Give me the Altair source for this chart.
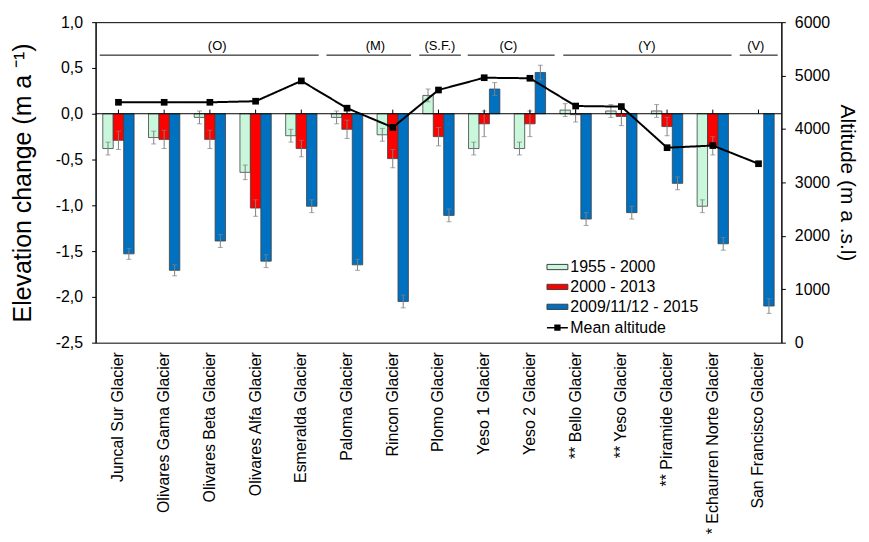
import altair as alt
import pandas as pd

# ---------------- data ----------------
glaciers = ["Juncal Sur Glacier", "Olivares Gama Glacier", "Olivares Beta Glacier",
            "Olivares Alfa Glacier", "Esmeralda Glacier", "Paloma Glacier", "Rincon Glacier",
            "Plomo Glacier", "Yeso 1  Glacier", "Yeso 2 Glacier", "** Bello Glacier",
            "** Yeso Glacier", "** Piramide Glacier", "* Echaurren Norte Glacier",
            "San Francisco Glacier"]
periods = ["1955 - 2000", "2000 - 2013", "2009/11/12 - 2015"]

change_1955_2000 = [-0.38, -0.26, -0.04, -0.64, -0.24, -0.04, -0.23, 0.20, -0.38, -0.38,
                    0.04, 0.03, 0.03, -1.01, None]
err_1955_2000 = [0.07, 0.07, 0.07, 0.08, 0.07, 0.07, 0.07, 0.07, 0.07, 0.07,
                 0.07, 0.07, 0.07, 0.07, None]
change_2000_2013 = [-0.29, -0.28, -0.28, -1.03, -0.38, -0.17, -0.49, -0.25, -0.11, -0.11,
                    -0.01, -0.03, -0.14, -0.35, None]
err_2000_2013 = [0.10, 0.10, 0.10, 0.09, 0.09, 0.10, 0.10, 0.10, 0.14, 0.14,
                 0.08, 0.10, 0.10, 0.10, None]
change_2009_2015 = [-1.53, -1.71, -1.39, -1.61, -1.01, -1.65, -2.05, -1.11, 0.27, 0.45,
                    -1.15, -1.08, -0.76, -1.42, -2.10]
err_2009_2015 = [0.06, 0.06, 0.07, 0.07, 0.07, 0.06, 0.07, 0.07, 0.07, 0.08,
                 0.07, 0.07, 0.07, 0.07, 0.08]
mean_altitude = [4500, 4500, 4500, 4520, 4900, 4390, 4030, 4730, 4960, 4950,
                 4430, 4420, 3650, 3690, 3350]

group_names = ["(O)", "(M)", "(S.F.)", "(C)", "(Y)", "(V)"]
group_start = [-0.41, 4.55, 6.58, 7.64, 9.73, 13.59]
group_end = [4.38, 6.40, 7.49, 9.54, 13.41, 14.42]
group_label_pos = [2.16, 5.62, 7.03, 8.53, 11.56, 13.94]

# ---------------- tables ----------------
rows = []
for vals, errs, p in [(change_1955_2000, err_1955_2000, periods[0]),
                      (change_2000_2013, err_2000_2013, periods[1]),
                      (change_2009_2015, err_2009_2015, periods[2])]:
    for g, v, e in zip(glaciers, vals, errs):
        if v is not None:
            rows.append({"glacier": g, "period": p, "value": v, "err": e})
bars_df = pd.DataFrame(rows)
alt_df = pd.DataFrame({"glacier": glaciers, "altitude": mean_altitude})
names_df = pd.DataFrame({"glacier": glaciers})
zero_df = pd.DataFrame({"z": [0]})
groups_df = pd.DataFrame({"name": group_names, "start": group_start,
                          "end": group_end, "mid": group_label_pos})

FONT = "Liberation Sans"
colors = ["#C8F7DC", "#FF0000", "#0070C0"]

xband = alt.Scale(domain=glaciers, paddingInner=0, paddingOuter=0)
yelev = alt.Scale(domain=[-2.5, 1.0], nice=False, zero=False)

bar_legend = alt.Legend(
    title=None, orient="none", legendX=453, legendY=235,
    labelFontSize=16, labelFont=FONT, labelColor="black", labelOffset=2,
    symbolSize=441, symbolStrokeWidth=1, symbolStrokeColor="#404040", rowPadding=1,
    symbolType="M-1,-0.25H1V0.25H-1Z",
)
line_legend = alt.Legend(
    title=None, orient="none", legendX=453, legendY=296,
    labelFontSize=16, labelFont=FONT, labelColor="black", labelOffset=2,
    symbolSize=441, symbolStrokeWidth=1, symbolStrokeColor="#000000",
    symbolFillColor="#000000",
    symbolType="M-1,-0.08H1V0.08H-1Z M-0.3,-0.3H0.3V0.3H-0.3Z",
)

x_enc = alt.X("glacier:N", sort=glaciers, scale=xband,
              axis=alt.Axis(title=None, labelAngle=270, labelFontSize=16, labelPadding=9,
                            domain=False, ticks=False, labelLimit=300))
xoff = alt.XOffset("period:N", sort=periods,
                   scale=alt.Scale(domain=periods, paddingInner=0, paddingOuter=0.69))

bars = alt.Chart(bars_df).mark_bar(stroke="#404040", strokeWidth=0.8).encode(
    x=x_enc,
    xOffset=xoff,
    y=alt.Y("value:Q", scale=yelev,
            axis=alt.Axis(title="Elevation change (m a ⁻¹)", titleFontSize=25,
                          values=[-2.5, -2.0, -1.5, -1.0, -0.5, 0.0, 0.5, 1.0],
                          labelExpr="(datum.value < 0 ? '-' : '') + replace(format(abs(datum.value), '.1f'), '.', ',')",
                          labelFontSize=16, tickSize=4, labelPadding=9, titlePadding=20)),
    color=alt.Color("period:N", scale=alt.Scale(domain=periods, range=colors),
                    legend=bar_legend),
)

err_rules = alt.Chart(bars_df).transform_calculate(
    lo="datum.value - datum.err", hi="datum.value + datum.err"
).mark_rule(color="#808080", strokeWidth=1).encode(
    x=alt.X("glacier:N", sort=glaciers, scale=xband),
    xOffset=xoff,
    y=alt.Y("lo:Q", scale=yelev),
    y2="hi:Q",
)

err_caps = alt.Chart(bars_df).transform_calculate(
    lo="datum.value - datum.err", hi="datum.value + datum.err"
).transform_fold(["lo", "hi"], as_=["cap", "capv"]).mark_tick(
    color="#808080", size=5, thickness=1
).encode(
    x=alt.X("glacier:N", sort=glaciers, scale=xband),
    xOffset=xoff,
    y=alt.Y("capv:Q", scale=yelev),
)

zero_line = alt.Chart(zero_df).mark_rule(color="black", strokeWidth=1).encode(
    y=alt.Y("z:Q", scale=yelev)
)

cat_ticks = alt.Chart(names_df).mark_rule(color="black", strokeWidth=1).encode(
    x=alt.X("glacier:N", sort=glaciers, scale=xband),
    y=alt.datum(0),
    y2=alt.datum(0.045),
)

left = alt.layer(bars, err_rules, err_caps, zero_line, cat_ticks)

grp_rules = alt.Chart(groups_df).mark_rule(color="black", strokeWidth=1).encode(
    x=alt.X("start:Q", scale=alt.Scale(domain=[-0.5, 14.5], nice=False, zero=False), axis=None),
    x2="end:Q",
    y=alt.datum(0.64),
)
grp_text = alt.Chart(groups_df).mark_text(fontSize=13, font=FONT, baseline="middle",
                                          color="black").encode(
    x=alt.X("mid:Q", scale=alt.Scale(domain=[-0.5, 14.5], nice=False, zero=False), axis=None),
    y=alt.datum(0.745),
    text="name:N",
)
groups = alt.layer(grp_rules, grp_text)

inner = alt.layer(left, groups).resolve_scale(x="independent")

line = alt.Chart(alt_df).transform_calculate(series="'Mean altitude'").mark_line(
    color="black", strokeWidth=2,
    point=alt.OverlayMarkDef(shape="square", size=45, color="black", filled=True)
).encode(
    x=alt.X("glacier:N", sort=glaciers, scale=xband, axis=None),
    y=alt.Y("altitude:Q", scale=alt.Scale(domain=[0, 6000], nice=False),
            axis=alt.Axis(orient="right", title="Altitude (m a .s.l)", titleFontSize=21,
                          values=[0, 1000, 2000, 3000, 4000, 5000, 6000], format="d",
                          labelFontSize=16, tickSize=4, labelPadding=9, titlePadding=7)),
    strokeDash=alt.StrokeDash("series:N", scale=alt.Scale(domain=["Mean altitude"], range=[[1, 0]]),
                              legend=line_legend),
)

chart = alt.layer(inner, line).resolve_scale(y="independent", x="independent").properties(
    width=689, height=322,
    padding={"left": 2, "top": 5, "right": 3, "bottom": 0},
).configure_view(stroke="black", strokeWidth=1).configure_axis(
    labelFont=FONT, titleFont=FONT, labelColor="black", titleColor="black",
    domainColor="black", tickColor="black", titleFontWeight="normal", grid=False,
).configure_text(font=FONT)

chart.save("out.html", embed_options={"renderer": "svg", "actions": False})
